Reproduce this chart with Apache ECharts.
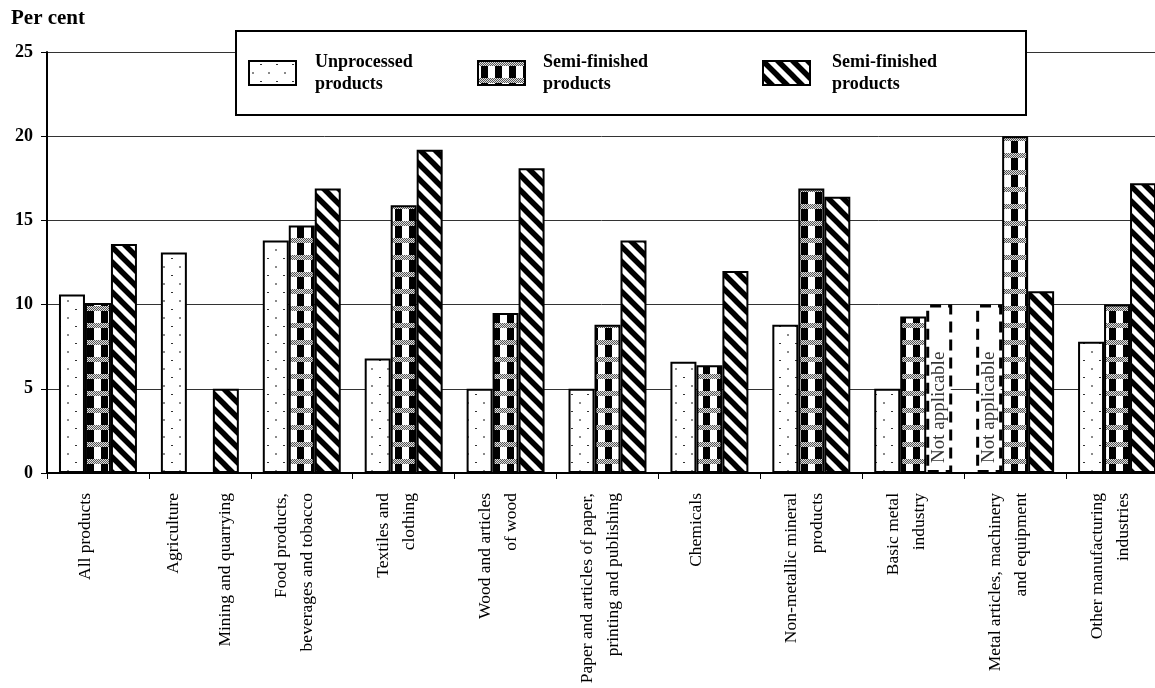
<!DOCTYPE html>
<html><head><meta charset="utf-8">
<script src="https://cdn.jsdelivr.net/npm/echarts@6/dist/echarts.min.js"></script>
<style>html,body{margin:0;padding:0;background:#fff;overflow:hidden}#chart{width:1155px;height:688px}</style>
</head><body><div id="chart"></div>
<script>
// ---- data ----
const categories = [
  'All products',
  'Agriculture\n\nMining and quarrying',
  'Food products,\nbeverages and tobacco',
  'Textiles and\nclothing',
  'Wood and articles\nof wood',
  'Paper and articles of paper,\nprinting and publishing',
  'Chemicals',
  'Non-metallic mineral\nproducts',
  'Basic metal\nindustry',
  'Metal articles, machinery\nand equipment',
  'Other manufacturing\nindustries'
];
const seriesNames = ['Unprocessed\nproducts', 'Semi-finished\nproducts', 'Semi-finished\nproducts '];
const unprocessed   = [10.6, 13.1, 13.8, 6.8, 5.0, 5.0, 6.6, 8.8, 5.0, 'n/a', 7.8];
const semiFinished  = [10.1, null, 14.7, 15.9, 9.5, 8.8, 6.4, 16.9, 9.3, 20.0, 10.0];
const semiFinished2 = [13.6, 5.0, 16.9, 19.2, 18.1, 13.8, 12.0, 16.4, 'n/a', 10.8, 17.2];
const notApplicableHeight = 10;
const notApplicableText = 'Not applicable';
const yTicks = {min: 0, max: 25, interval: 5};

// ---- patterns ----
const FONT = "'Liberation Serif','Times New Roman',serif";
function tile(w, h, draw) {
  const c = document.createElement('canvas');
  c.width = w; c.height = h;
  const g = c.getContext('2d');
  g.fillStyle = '#fff'; g.fillRect(0, 0, w, h);
  draw(g, w, h);
  return c;
}
const dotTile = tile(16, 17, g => {
  g.fillStyle = '#8a8a8a'; g.fillRect(3, 11, 2, 2);
  g.fillStyle = '#333'; g.fillRect(11, 3, 2, 1);
});
const checkTile = tile(14, 17, g => {
  g.fillStyle = '#000'; g.fillRect(3, 0, 7, 17);
  for (let y = 0; y < 5; y++) for (let x = 0; x < 14; x++) {
    g.fillStyle = ((x + y) % 2 === 0) ? '#555' : '#e0e0e0';
    g.fillRect(x, y, 1, 1);
  }
});
const hatchTile = tile(15, 15, g => {
  g.strokeStyle = '#000'; g.lineWidth = 5.5; g.lineCap = 'square';
  for (const k of [-15, 0, 15]) {
    g.beginPath(); g.moveTo(k - 3, -3); g.lineTo(k + 18, 18); g.stroke();
  }
});
const patterns = [dotTile, checkTile, hatchTile];

const naItemStyle = {color: '#fff', borderColor: '#000', borderWidth: 3, borderType: [11, 7]};
const naLabel = {
  show: true, position: 'insideBottom', distance: 10, rotate: 90,
  align: 'left', verticalAlign: 'middle', formatter: notApplicableText,
  fontFamily: FONT, fontSize: 19, color: '#333'
};
function toData(arr) {
  return arr.map(v => v === 'n/a'
    ? {value: notApplicableHeight, itemStyle: naItemStyle, label: naLabel}
    : v);
}
const valueSets = [unprocessed, semiFinished, semiFinished2];

const series = valueSets.map((vals, i) => ({
  name: seriesNames[i],
  type: 'bar',
  barGap: '0%',
  barCategoryGap: '23.5%',
  data: toData(vals),
  itemStyle: {color: {image: patterns[i], repeat: 'repeat'}, borderColor: '#000', borderWidth: 2},
  emphasis: {disabled: true},
  z: 2
}));

const legendLefts = [248, 477, 762];
const legendTextPad = [14, 13, 17];
const legends = seriesNames.map((n, i) => ({
  data: [n],
  left: legendLefts[i], top: 51, padding: 0, z: 5,
  itemWidth: 47, itemHeight: 24, icon: 'rect',
  selectedMode: false,
  itemStyle: {borderColor: '#000', borderWidth: 2},
  textStyle: {fontFamily: FONT, fontSize: 18, fontWeight: 'bold', color: '#000',
              lineHeight: 22, padding: [0, 0, 0, legendTextPad[i]]}
}));

// trailing spacer line so labels sit slightly left of the category centre, as in the source
function xLabel(v) {
  const lines = v.split('\n').length;
  if (lines === 1) return v + '\n{s1|\u00a0}';
  if (lines === 2) return v + '\n{s2|\u00a0}';
  return v;
}

const chart = echarts.init(document.getElementById('chart'));
chart.setOption({
  animation: false,
  backgroundColor: '#fff',
  title: {text: 'Per cent', left: 11, top: 8, padding: 0,
          textStyle: {fontFamily: FONT, fontSize: 21, fontWeight: 'bold', color: '#000'}},
  legend: legends,
  graphic: [{type: 'rect', z: 3, shape: {x: 236, y: 31, width: 790, height: 84},
             style: {fill: '#fff', stroke: '#000', lineWidth: 2}}],
  grid: {left: 47, top: 52, width: 1121, height: 421, containLabel: false, outerBoundsMode: 'none'},
  xAxis: {
    type: 'category', data: categories,
    axisLine: {show: true, lineStyle: {color: '#000', width: 2}},
    axisTick: {show: true, length: 6, interval: 0, lineStyle: {color: '#000', width: 1}},
    axisLabel: {
      interval: 0, rotate: 90, margin: 20, color: '#000',
      fontFamily: FONT, fontSize: 17.5, lineHeight: 26,
      formatter: xLabel,
      rich: {
        s1: {fontSize: 4, lineHeight: 26},
        s2: {fontSize: 4, lineHeight: 14}
      }
    }
  },
  yAxis: {
    type: 'value', min: yTicks.min, max: yTicks.max, interval: yTicks.interval,
    axisLine: {show: true, lineStyle: {color: '#000', width: 2}},
    axisTick: {show: true, length: 6, lineStyle: {color: '#000', width: 1}},
    axisLabel: {margin: 14, color: '#000', fontFamily: FONT, fontSize: 18, fontWeight: 'bold'},
    splitLine: {show: true, lineStyle: {color: '#333', width: 1}}
  },
  series: series
});
</script></body></html>
